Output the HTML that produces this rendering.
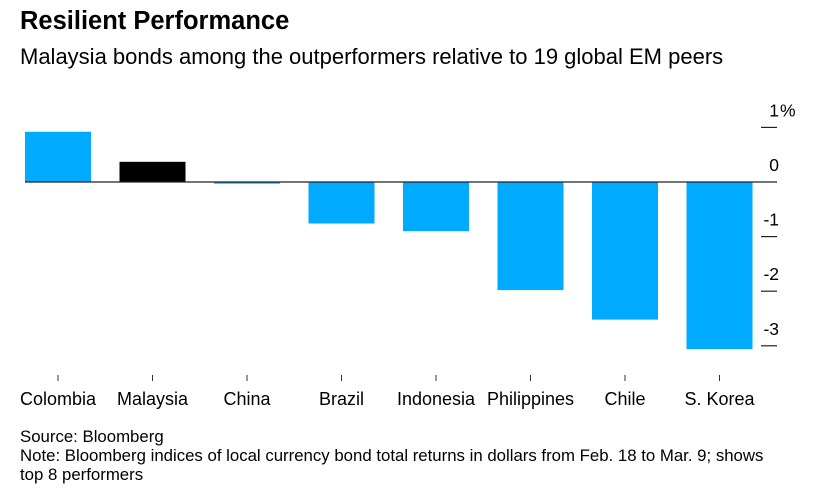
<!DOCTYPE html>
<html><head><meta charset="utf-8"><style>
body{margin:0;background:#fff;font-family:"Liberation Sans",Arial,sans-serif;}
#wrap{position:relative;width:828px;height:490px;overflow:hidden;}
.t{position:absolute;left:20px;color:#000;white-space:nowrap;}
</style></head><body>
<div id="wrap">
<div class="t" style="top:7px;font-size:25.5px;font-weight:bold;">Resilient Performance</div>
<div class="t" style="top:44px;font-size:22px;">Malaysia bonds among the outperformers relative to 19 global EM peers</div>
<svg id="chart" width="828" height="420" style="position:absolute;left:0;top:0"></svg>
<div class="t" style="top:427px;font-size:16.8px;">Source: Bloomberg</div>
<div class="t" style="top:446px;font-size:16.8px;line-height:19px;white-space:normal;width:770px;">Note: Bloomberg indices of local currency bond total returns in dollars from Feb. 18 to Mar. 9; shows top 8 performers</div>
</div>
<script>
const categories=["Colombia","Malaysia","China","Brazil","Indonesia","Philippines","Chile","S. Korea"];
const values=[0.92,0.37,-0.03,-0.76,-0.90,-1.98,-2.52,-3.06];
const highlight=["Malaysia"];
const yTicks=[1,0,-1,-2,-3];
const yTickLabels=["1%","0","-1","-2","-3"];
const NS="http://www.w3.org/2000/svg";
const svg=document.getElementById('chart');
const y0=182, ppu=54.6;
function y(v){return y0-v*ppu;}
const x0=25, step=94.5, bw=66;
function x(i){return x0+i*step;}
function mk(t,a){const e=document.createElementNS(NS,t);for(const k in a)e.setAttribute(k,a[k]);svg.appendChild(e);return e;}
values.forEach((v,i)=>{
 const r=mk('rect',{x:x(i),y:Math.min(y(v),y0),width:bw,height:Math.max(Math.abs(y(v)-y0),1.5),fill:highlight.includes(categories[i])?'#000':'#00aaff'});
 
 
 const tk=mk('line',{x1:x(i)+bw/2,x2:x(i)+bw/2,y1:375,y2:381,stroke:'#333','stroke-width':1});
 
 
 const tx=mk('text',{x:x(i)+bw/2,y:405,'text-anchor':'middle','font-size':18,fill:'#000'});
 tx.textContent=categories[i];
 
 
});
const zl=mk('line',{x1:25,x2:777,y1:y0,y2:y0,stroke:'#222','stroke-width':1.2});


yTicks.forEach((v,i)=>{
 if(v!==0){const l=mk('line',{x1:761,x2:777,y1:y(v),y2:y(v),stroke:'#222','stroke-width':1.2});
 
 }
 const lab=yTickLabels[i];
 const pct=lab.endsWith('%');
 const t=mk('text',{x:779,y:y(v)-11,'text-anchor':'end','font-size':17.5,fill:'#000'});
 t.textContent=pct?lab.slice(0,-1):lab;
 
 
 if(pct){const p=mk('text',{x:780,y:y(v)-11,'font-size':17.5,fill:'#000'});
  p.textContent='%';
  
  }
});
</script>
</body></html>
